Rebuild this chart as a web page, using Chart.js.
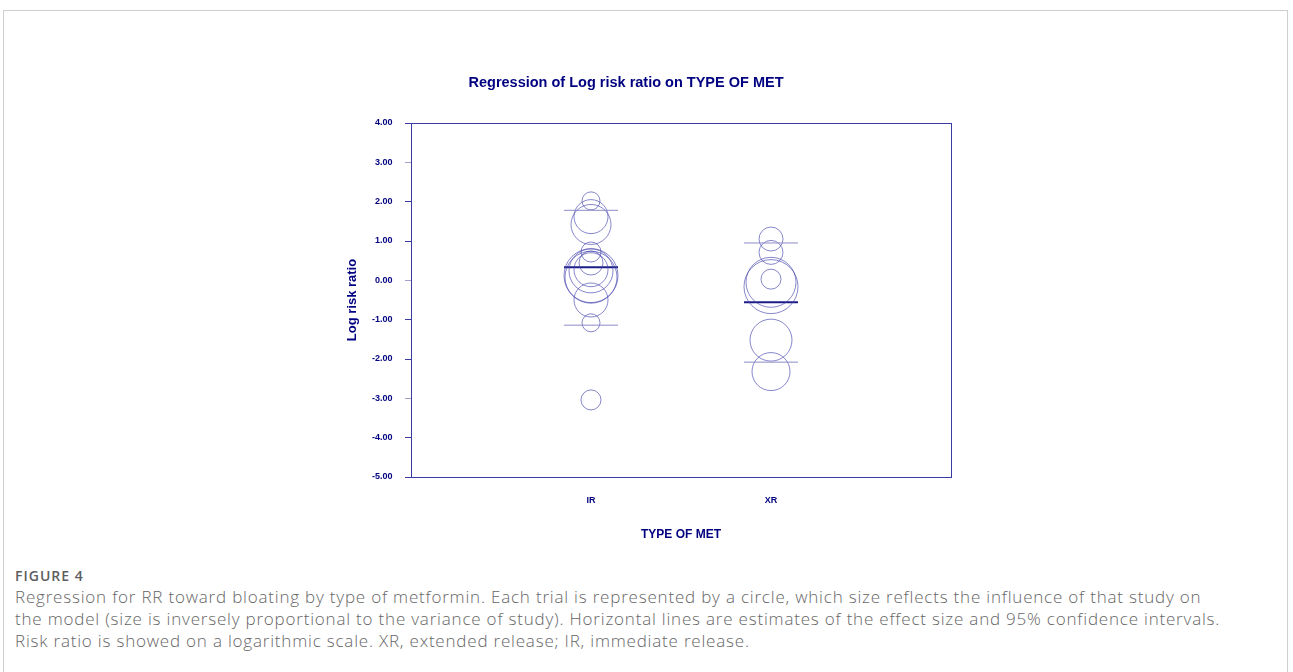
<!DOCTYPE html>
<html>
<head>
<meta charset="utf-8">
<script src="https://cdn.jsdelivr.net/npm/chart.js@4.4.1/dist/chart.umd.min.js"></script>
<style>
  html, body { margin: 0; padding: 0; background: #fff; }
  body { width: 1293px; height: 672px; position: relative; overflow: hidden; }
  #frame {
    position: absolute; left: 3px; top: 10px; width: 1285px; height: 700px;
    border: 1px solid #cfcfcf; box-sizing: border-box;
  }
  #wrap { position: absolute; left: 0; top: 0; width: 1293px; height: 560px; }
  #title {
    position: absolute; left: 326px; width: 600px; top: 73px; text-align: center;
    font-family: Arial, "Liberation Sans", sans-serif; font-weight: bold;
    font-size: 14.5px; line-height: 18px; color: #000080; white-space: nowrap;
  }
  #caption {
    position: absolute; left: 15px; top: 566px;
    font-family: "Open Sans", "Noto Sans", sans-serif; color: #666;
  }
  #caption .fig { font-size: 14px; font-weight: 600; letter-spacing: 1px; line-height: 20px; color: #5e5e5e; }
  #caption .txt { font-size: 17px; letter-spacing: 0.8px; line-height: 22px; white-space: nowrap; font-weight: 300; }
</style>
</head>
<body>
<div id="frame"></div>
<div id="wrap"><canvas id="chart" width="1293" height="560"></canvas></div>
<div id="title">Regression of Log risk ratio on TYPE OF MET</div>
<div id="caption">
  <div class="fig">FIGURE 4</div>
  <div class="txt">Regression for RR toward bloating by type of metformin. Each trial is represented by a circle, which size reflects the influence of that study on<br>the model (size is inversely proportional to the variance of study). Horizontal lines are estimates of the effect size and 95% confidence intervals.<br>Risk ratio is showed on a logarithmic scale. XR, extended release; IR, immediate release.</div>
</div>
<script>
// Kategorier på x-aksen (IR = 1, XR = 2)
const categories = ['IR', 'XR'];

// Studier: log risk ratio og sirkelradius (vekt)
const irLogRR  = [2.02, 1.62, 1.42, 0.72, 0.44, 0.24, 0.27, 0.12, 0.08, -0.50, -1.08, -3.04];
const irRadius = [9, 17, 20, 10, 12, 22, 17, 27, 26, 17, 9, 10];
const xrLogRR  = [1.05, 0.71, 0.03, -0.05, -0.16, -1.52, -2.32];
const xrRadius = [12, 12, 10, 25, 27, 21, 19];

// Regresjonsestimat og 95% KI per kategori
const estimate = [0.33, -0.56];
const ciUpper  = [1.78, 0.95];
const ciLower  = [-1.14, -2.08];

// Y-akse ticks
const yTicks = [4, 3, 2, 1, 0, -1, -2, -3, -4, -5];

const navy = '#000080';
const font = 'Arial, "Liberation Sans", sans-serif';
const halfWidth = 0.15;

function bubbles(ys, rs, xPos) {
  return ys.map((y, i) => ({ x: xPos, y: y, r: rs[i] }));
}

function hLine(xPos, y) {
  return [{ x: xPos - halfWidth, y: y }, { x: xPos + halfWidth, y: y }];
}

const datasets = [];

// Horisontale linjer (KI først, estimat over)
categories.forEach((c, i) => {
  const xPos = i + 1;
  [ciUpper[i], ciLower[i]].forEach(v => {
    datasets.push({
      type: 'line', data: hLine(xPos, v),
      borderColor: '#8c8cc8', borderWidth: 1, pointRadius: 0
    });
  });
});

datasets.push({
  type: 'bubble', data: bubbles(irLogRR, irRadius, 1),
  backgroundColor: 'rgba(0,0,0,0)', borderColor: 'rgba(70,70,175,0.65)',
  borderWidth: 1, hoverRadius: 0
});
datasets.push({
  type: 'bubble', data: bubbles(xrLogRR, xrRadius, 2),
  backgroundColor: 'rgba(0,0,0,0)', borderColor: 'rgba(70,70,175,0.65)',
  borderWidth: 1, hoverRadius: 0
});

categories.forEach((c, i) => {
  datasets.push({
    type: 'line', data: hLine(i + 1, estimate[i]),
    borderColor: '#1c1c88', borderWidth: 2, pointRadius: 0
  });
});

// Ramme rundt plottområdet
const frameBox = {
  id: 'frameBox',
  afterDraw(chart) {
    const { ctx, chartArea: a } = chart;
    ctx.save();
    ctx.strokeStyle = '#3a3aa0';
    ctx.lineWidth = 1;
    ctx.strokeRect(Math.round(a.left) + 0.5, Math.round(a.top) + 0.5,
      Math.round(a.right - a.left), Math.round(a.bottom - a.top));
    ctx.restore();
  }
};

new Chart(document.getElementById('chart'), {
  type: 'bubble',
  data: { datasets: datasets },
  plugins: [frameBox],
  options: {
    responsive: false,
    animation: false,
    events: [],
    layout: { padding: { left: 343, right: 342, top: 123, bottom: 0 } },
    plugins: {
      legend: { display: false },
      tooltip: { enabled: false },
      title: { display: false }
    },
    scales: {
      x: {
        type: 'linear', min: 0, max: 3,
        afterFit(scale) { scale.height = 83; },
        border: { display: false },
        grid: { display: false, drawTicks: false },
        ticks: {
          stepSize: 1, padding: 18.5, color: navy, maxRotation: 0,
          font: { family: font, size: 9, weight: 'bold' },
          callback: v => categories[v - 1] || ''
        },
        title: {
          display: true, text: 'TYPE OF MET', color: navy,
          font: { family: font, size: 12, weight: 'bold' },
          padding: { top: 0, bottom: 17.8 }
        }
      },
      y: {
        type: 'linear', min: Math.min(...yTicks), max: Math.max(...yTicks),
        afterFit(scale) { scale.width = 68; },
        afterBuildTicks(scale) { scale.ticks = yTicks.map(v => ({ value: v })); },
        border: { display: false },
        grid: {
          drawOnChartArea: false, drawTicks: true, tickLength: 6,
          tickColor: ctx => ([3, 0, -3].includes(ctx.tick && ctx.tick.value) ? '#a0a0cc' : '#3a3aa0')
        },
        ticks: {
          padding: 12.5, color: navy,
          font: { family: font, size: 9, weight: 'bold' },
          callback: v => v.toFixed(2)
        },
        title: {
          display: true, text: 'Log risk ratio', color: navy,
          font: { family: font, size: 13, weight: 'bold' },
          padding: { top: 1.5, bottom: 0 }
        }
      }
    }
  }
});
</script>
</body>
</html>
